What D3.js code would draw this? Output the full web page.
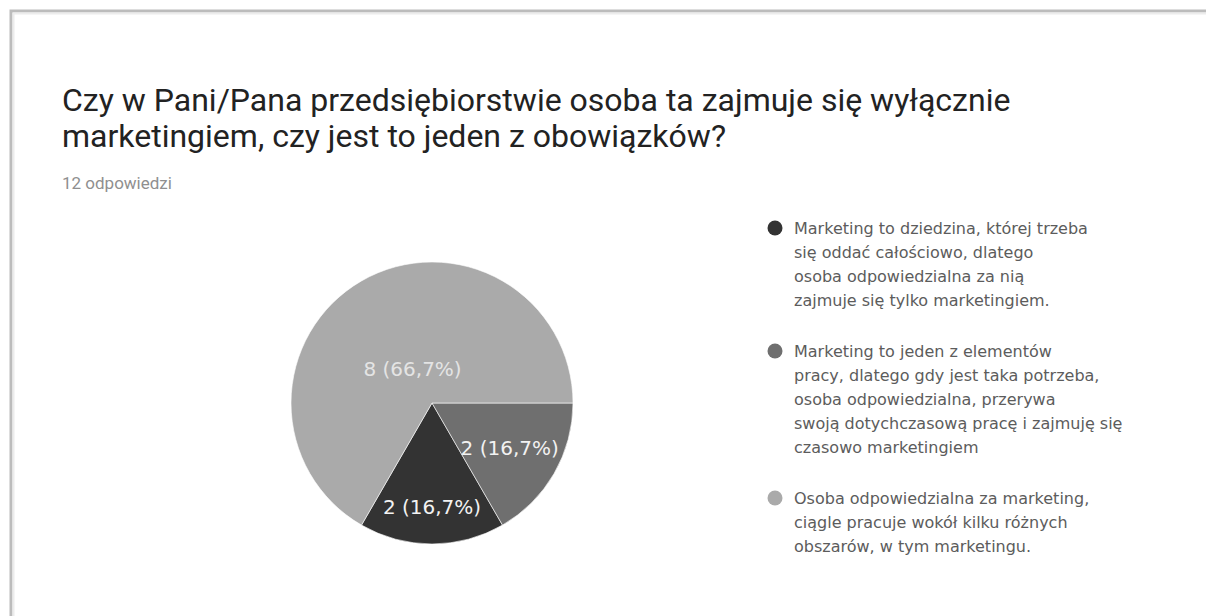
<!DOCTYPE html>
<html>
<head>
<meta charset="utf-8">
<script src="https://cdn.jsdelivr.net/npm/d3@7"></script>
<style>
  body { margin: 0; background: #fff; }
  svg text { font-family: Roboto, "Liberation Sans", Arial, sans-serif; }
</style>
</head>
<body>
<div id="chart"></div>
<script>
const titleLines = [
    "Czy w Pani/Pana przedsiębiorstwie osoba ta zajmuje się wyłącznie",
    "marketingiem, czy jest to jeden z obowiązków?"
];
const subtitle = "12 odpowiedzi";

// legend labels, already wrapped the way the picture shows them
const categories = [
    ["Marketing to dziedzina, której trzeba", "się oddać całościowo, dlatego",
     "osoba odpowiedzialna za nią", "zajmuje się tylko marketingiem."],
    ["Marketing to jeden z elementów", "pracy, dlatego gdy jest taka potrzeba,",
     "osoba odpowiedzialna, przerywa", "swoją dotychczasową pracę i zajmuję się",
     "czasowo marketingiem"],
    ["Osoba odpowiedzialna za marketing,", "ciągle pracuje wokół kilku różnych",
     "obszarów, w tym marketingu."]
];
const values = [2, 2, 8];
const colors = ["#333333", "#6f6f6f", "#aaaaaa"];
const drawOrder = [1, 0, 2];   // order of slices clockwise from 3 o'clock

const width = 1206, height = 616;

const svg = d3.select("#chart")
    .append("svg")
    .attr("width", width)
    .attr("height", height);

// card border (top and left edges visible)
svg.append("rect")
    .attr("x", 0).attr("y", 0)
    .attr("width", width).attr("height", height)
    .attr("fill", "#fff");
svg.append("path")
    .attr("d", `M11,${height} V11 H${width}`)
    .attr("fill", "none")
    .attr("stroke", "#bcbcbc")
    .attr("stroke-width", 3);
svg.append("path")
    .attr("d", `M13.5,${height} V13.5 H${width}`)
    .attr("fill", "none")
    .attr("stroke", "#ececec")
    .attr("stroke-width", 2);

// Title
const title = svg.append("text")
    .attr("x", 62)
    .attr("y", 111)
    .style("font-size", "32px")
    .style("fill", "#222");
title.selectAll("tspan")
    .data(titleLines)
    .enter()
    .append("tspan")
    .attr("x", 62)
    .attr("dy", (d, i) => i == 0 ? 0 : 36)
    .text(d => d);

svg.append("text")
    .attr("x", 62)
    .attr("y", 189)
    .style("font-size", "17px")
    .style("fill", "#8f8f8f")
    .text(subtitle);

// Pie
const cx = 432, cy = 403, radius = 141;
const total = d3.sum(values);
const data = values.map((v, i) => ({ i: i, value: v, color: colors[i] }));

const pie = d3.pie()
    .value(d => d.value)
    .sort((a, b) => drawOrder.indexOf(a.i) - drawOrder.indexOf(b.i))
    .startAngle(Math.PI / 2)
    .endAngle(Math.PI / 2 + 2 * Math.PI);

const arc = d3.arc().innerRadius(0).outerRadius(radius);
const arcs = pie(data);

const g = svg.append("g")
    .attr("transform", `translate(${cx},${cy})`);

g.selectAll("path")
    .data(arcs)
    .enter()
    .append("path")
    .attr("d", arc)
    .attr("fill", d => d.data.color)
    .attr("stroke", "#fff")
    .attr("stroke-width", 0.6);

const pct = d3.format(".1f");
const labelSize = 20;

// label at the sector's centroid, pushed outward if the text box then fits the wedge
function labelPos(d, w, h) {
    const a = (d.startAngle + d.endAngle) / 2;
    const half = (d.endAngle - d.startAngle) / 2;
    const r0 = 2 * radius * Math.sin(half) / (3 * half);
    const inside = (x, y) => {
        let ang = Math.atan2(x, -y);
        while (ang < d.startAngle) ang += 2 * Math.PI;
        return ang <= d.endAngle && Math.hypot(x, y) <= radius - 2;
    };
    for (let r = r0; r < radius; r += 1) {
        const x = Math.sin(a) * r, y = -Math.cos(a) * r;
        const corners = [[x - w / 2, y - h / 2], [x + w / 2, y - h / 2],
                         [x - w / 2, y + h / 2], [x + w / 2, y + h / 2]];
        if (corners.every(c => inside(c[0], c[1]))) return [x, y];
    }
    return [Math.sin(a) * r0, -Math.cos(a) * r0];
}

g.selectAll("text.lbl")
    .data(arcs)
    .enter()
    .append("text")
    .attr("class", "lbl")
    .attr("text-anchor", "middle")
    .attr("dy", "0.35em")
    .style("font-family", "'DejaVu Sans', Verdana, sans-serif")
    .style("font-size", labelSize + "px")
    .style("fill", d => d.data.i == 2 ? "#e4e4e4" : "#f2f2f2")
    .text(d => `${d.data.value} (${pct(d.data.value / total * 100).replace(".", ",")}%)`)
    .each(function (d) {
        const w = this.getComputedTextLength();
        const p = labelPos(d, w, labelSize * 1.8);
        d3.select(this).attr("x", p[0]).attr("y", p[1]);
    });

// Legend
const lineH = 24, itemGap = 27;
const legend = svg.append("g").attr("transform", "translate(775,0)");
let yy = 234;
categories.forEach((lines, i) => {
    legend.append("circle")
        .attr("cx", 0)
        .attr("cy", yy - 6)
        .attr("r", 7.5)
        .attr("fill", colors[i]);
    const t = legend.append("text")
        .attr("y", yy)
        .style("font-family", "'DejaVu Sans', Verdana, sans-serif")
        .style("font-size", "16px")
        .style("fill", "#5c5c5c");
    t.selectAll("tspan")
        .data(lines)
        .enter()
        .append("tspan")
        .attr("x", 19)
        .attr("dy", (d, k) => k == 0 ? 0 : lineH)
        .text(d => d);
    yy += lines.length * lineH + itemGap;
});
</script>
</body>
</html>
